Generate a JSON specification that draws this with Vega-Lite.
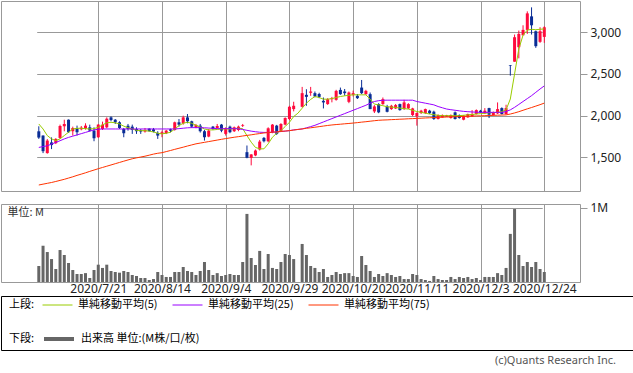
{
  "$schema": "https://vega.github.io/schema/vega-lite/v6.json",
  "padding": 0,
  "background": "white",
  "config": {
    "font": "Noto Sans",
    "view": {"stroke": "#999999", "strokeWidth": 1},
    "axis": {"gridColor": "#999999", "gridWidth": 1, "labelFont": "Noto Sans", "labelFontSize": 12, "labelColor": "#222222", "tickColor": "#999999", "domain": false}
  },
  "datasets": {
    "ohlc": [
      {"d":"2020/7/1","o":1813,"h":1873,"l":1722,"c":1738,"v":0.216,"m5":1901,"m25":1620,"m75":1170},
      {"d":"2020/7/2","o":1762,"h":1765,"l":1552,"c":1575,"v":0.49,"m5":1841,"m25":1630,"m75":1180},
      {"d":"2020/7/3","o":1552,"h":1720,"l":1545,"c":1702,"v":0.405,"m5":1762,"m25":1640,"m75":1190},
      {"d":"2020/7/6","o":1680,"h":1740,"l":1600,"c":1648,"v":0.31,"m5":1722,"m25":1660,"m75":1200},
      {"d":"2020/7/7","o":1671,"h":1730,"l":1660,"c":1722,"v":0.176,"m5":1702,"m25":1680,"m75":1212},
      {"d":"2020/7/8","o":1734,"h":1893,"l":1722,"c":1877,"v":0.432,"m5":1722,"m25":1700,"m75":1225},
      {"d":"2020/7/9","o":1873,"h":1952,"l":1813,"c":1901,"v":0.365,"m5":1762,"m25":1722,"m75":1238},
      {"d":"2020/7/10","o":1952,"h":1955,"l":1794,"c":1802,"v":0.257,"m5":1802,"m25":1740,"m75":1253},
      {"d":"2020/7/13","o":1814,"h":1869,"l":1762,"c":1853,"v":0.162,"m5":1841,"m25":1755,"m75":1268},
      {"d":"2020/7/14","o":1849,"h":1881,"l":1762,"c":1802,"v":0.108,"m5":1849,"m25":1770,"m75":1285},
      {"d":"2020/7/15","o":1837,"h":1877,"l":1825,"c":1857,"v":0.108,"m5":1849,"m25":1785,"m75":1300},
      {"d":"2020/7/16","o":1849,"h":1909,"l":1833,"c":1881,"v":0.12,"m5":1845,"m25":1800,"m75":1316},
      {"d":"2020/7/17","o":1861,"h":1893,"l":1810,"c":1821,"v":0.054,"m5":1841,"m25":1815,"m75":1333},
      {"d":"2020/7/20","o":1821,"h":1861,"l":1694,"c":1730,"v":0.162,"m5":1845,"m25":1830,"m75":1349},
      {"d":"2020/7/21","o":1742,"h":1901,"l":1734,"c":1893,"v":0.234,"m5":1861,"m25":1838,"m75":1365},
      {"d":"2020/7/22","o":1841,"h":1929,"l":1829,"c":1893,"v":0.19,"m5":1890,"m25":1841,"m75":1380},
      {"d":"2020/7/27","o":1861,"h":1980,"l":1849,"c":1964,"v":0.234,"m5":1915,"m25":1841,"m75":1395},
      {"d":"2020/7/28","o":1980,"h":1992,"l":1933,"c":1948,"v":0.149,"m5":1921,"m25":1841,"m75":1410},
      {"d":"2020/7/29","o":1952,"h":1960,"l":1901,"c":1920,"v":0.135,"m5":1915,"m25":1841,"m75":1425},
      {"d":"2020/7/30","o":1921,"h":1933,"l":1841,"c":1853,"v":0.126,"m5":1901,"m25":1841,"m75":1440},
      {"d":"2020/7/31","o":1841,"h":1853,"l":1742,"c":1790,"v":0.149,"m5":1875,"m25":1841,"m75":1455},
      {"d":"2020/8/3","o":1881,"h":1901,"l":1821,"c":1841,"v":0.135,"m5":1855,"m25":1841,"m75":1470},
      {"d":"2020/8/4","o":1869,"h":1893,"l":1782,"c":1829,"v":0.095,"m5":1841,"m25":1841,"m75":1484},
      {"d":"2020/8/5","o":1841,"h":1861,"l":1782,"c":1814,"v":0.081,"m5":1825,"m25":1841,"m75":1495},
      {"d":"2020/8/6","o":1829,"h":1841,"l":1782,"c":1810,"v":0.054,"m5":1821,"m25":1841,"m75":1505},
      {"d":"2020/8/7","o":1810,"h":1853,"l":1798,"c":1829,"v":0.054,"m5":1821,"m25":1841,"m75":1515},
      {"d":"2020/8/11","o":1845,"h":1849,"l":1810,"c":1814,"v":0.027,"m5":1815,"m25":1841,"m75":1527},
      {"d":"2020/8/12","o":1837,"h":1853,"l":1800,"c":1810,"v":0.04,"m5":1805,"m25":1841,"m75":1540},
      {"d":"2020/8/13","o":1794,"h":1814,"l":1722,"c":1762,"v":0.135,"m5":1790,"m25":1841,"m75":1550},
      {"d":"2020/8/14","o":1782,"h":1821,"l":1742,"c":1802,"v":0.095,"m5":1782,"m25":1841,"m75":1557},
      {"d":"2020/8/17","o":1790,"h":1830,"l":1780,"c":1821,"v":0.068,"m5":1790,"m25":1841,"m75":1570},
      {"d":"2020/8/18","o":1837,"h":1845,"l":1800,"c":1820,"v":0.068,"m5":1802,"m25":1841,"m75":1583},
      {"d":"2020/8/19","o":1829,"h":1929,"l":1821,"c":1921,"v":0.135,"m5":1840,"m25":1841,"m75":1597},
      {"d":"2020/8/20","o":1921,"h":1960,"l":1869,"c":1893,"v":0.135,"m5":1881,"m25":1845,"m75":1610},
      {"d":"2020/8/21","o":1909,"h":2000,"l":1893,"c":1980,"v":0.203,"m5":1910,"m25":1850,"m75":1623},
      {"d":"2020/8/24","o":1980,"h":2020,"l":1909,"c":1933,"v":0.149,"m5":1921,"m25":1855,"m75":1637},
      {"d":"2020/8/25","o":1933,"h":1940,"l":1853,"c":1869,"v":0.135,"m5":1909,"m25":1857,"m75":1650},
      {"d":"2020/8/26","o":1861,"h":1901,"l":1850,"c":1889,"v":0.095,"m5":1885,"m25":1857,"m75":1663},
      {"d":"2020/8/27","o":1881,"h":1901,"l":1798,"c":1814,"v":0.149,"m5":1865,"m25":1857,"m75":1672},
      {"d":"2020/8/28","o":1814,"h":1830,"l":1702,"c":1742,"v":0.27,"m5":1841,"m25":1855,"m75":1681},
      {"d":"2020/8/31","o":1750,"h":1841,"l":1742,"c":1821,"v":0.162,"m5":1830,"m25":1852,"m75":1690},
      {"d":"2020/9/1","o":1869,"h":1877,"l":1830,"c":1841,"v":0.095,"m5":1830,"m25":1848,"m75":1699},
      {"d":"2020/9/2","o":1853,"h":1901,"l":1845,"c":1877,"v":0.12,"m5":1835,"m25":1845,"m75":1708},
      {"d":"2020/9/3","o":1893,"h":1901,"l":1802,"c":1821,"v":0.081,"m5":1841,"m25":1845,"m75":1717},
      {"d":"2020/9/4","o":1782,"h":1861,"l":1762,"c":1853,"v":0.095,"m5":1841,"m25":1845,"m75":1726},
      {"d":"2020/9/7","o":1869,"h":1881,"l":1790,"c":1802,"v":0.108,"m5":1841,"m25":1845,"m75":1734},
      {"d":"2020/9/8","o":1814,"h":1870,"l":1805,"c":1861,"v":0.095,"m5":1845,"m25":1845,"m75":1742},
      {"d":"2020/9/9","o":1829,"h":1881,"l":1814,"c":1869,"v":0.095,"m5":1850,"m25":1843,"m75":1749},
      {"d":"2020/9/10","o":1877,"h":1901,"l":1865,"c":1885,"v":0.27,"m5":1845,"m25":1835,"m75":1757},
      {"d":"2020/9/11","o":1563,"h":1643,"l":1490,"c":1496,"v":0.92,"m5":1762,"m25":1825,"m75":1764},
      {"d":"2020/9/14","o":1496,"h":1540,"l":1405,"c":1536,"v":0.324,"m5":1683,"m25":1815,"m75":1771},
      {"d":"2020/9/15","o":1524,"h":1595,"l":1515,"c":1583,"v":0.23,"m5":1620,"m25":1808,"m75":1779},
      {"d":"2020/9/16","o":1595,"h":1710,"l":1583,"c":1690,"v":0.42,"m5":1603,"m25":1802,"m75":1786},
      {"d":"2020/9/17","o":1734,"h":1745,"l":1680,"c":1694,"v":0.176,"m5":1603,"m25":1800,"m75":1793},
      {"d":"2020/9/18","o":1694,"h":1861,"l":1682,"c":1849,"v":0.378,"m5":1663,"m25":1800,"m75":1798},
      {"d":"2020/9/23","o":1802,"h":1900,"l":1790,"c":1893,"v":0.19,"m5":1742,"m25":1802,"m75":1802},
      {"d":"2020/9/24","o":1881,"h":1890,"l":1770,"c":1782,"v":0.176,"m5":1790,"m25":1805,"m75":1807},
      {"d":"2020/9/25","o":1814,"h":1910,"l":1805,"c":1901,"v":0.27,"m5":1821,"m25":1810,"m75":1812},
      {"d":"2020/9/28","o":1893,"h":1980,"l":1885,"c":1972,"v":0.378,"m5":1870,"m25":1815,"m75":1816},
      {"d":"2020/9/29","o":1960,"h":2119,"l":1948,"c":2107,"v":0.365,"m5":1921,"m25":1821,"m75":1821},
      {"d":"2020/9/30","o":2079,"h":2167,"l":2052,"c":2119,"v":0.31,"m5":1990,"m25":1830,"m75":1828},
      {"d":"2020/10/1","o":null,"h":null,"l":null,"c":null,"v":null,"m5":2030,"m25":1836,"m75":1835},
      {"d":"2020/10/2","o":2107,"h":2345,"l":2099,"c":2270,"v":0.514,"m5":2090,"m25":1841,"m75":1842},
      {"d":"2020/10/5","o":2250,"h":2317,"l":2119,"c":2226,"v":0.365,"m5":2150,"m25":1855,"m75":1849},
      {"d":"2020/10/6","o":2274,"h":2345,"l":2238,"c":2290,"v":0.216,"m5":2195,"m25":1869,"m75":1855},
      {"d":"2020/10/7","o":2270,"h":2290,"l":2220,"c":2230,"v":0.19,"m5":2230,"m25":1885,"m75":1862},
      {"d":"2020/10/8","o":2260,"h":2275,"l":2210,"c":2225,"v":0.135,"m5":2218,"m25":1905,"m75":1869},
      {"d":"2020/10/9","o":2178,"h":2218,"l":2087,"c":2159,"v":0.176,"m5":2198,"m25":1925,"m75":1876},
      {"d":"2020/10/12","o":2139,"h":2210,"l":2130,"c":2198,"v":0.068,"m5":2198,"m25":1945,"m75":1883},
      {"d":"2020/10/13","o":2198,"h":2225,"l":2160,"c":2210,"v":0.095,"m5":2205,"m25":1965,"m75":1889},
      {"d":"2020/10/14","o":2190,"h":2310,"l":2180,"c":2297,"v":0.135,"m5":2218,"m25":1985,"m75":1894},
      {"d":"2020/10/15","o":2309,"h":2337,"l":2250,"c":2258,"v":0.108,"m5":2230,"m25":2005,"m75":1898},
      {"d":"2020/10/16","o":2290,"h":2320,"l":2240,"c":2270,"v":0.12,"m5":2238,"m25":2025,"m75":1903},
      {"d":"2020/10/19","o":2166,"h":2290,"l":2150,"c":2278,"v":0.12,"m5":2245,"m25":2045,"m75":1907},
      {"d":"2020/10/20","o":2250,"h":2300,"l":2230,"c":2270,"v":0.081,"m5":2250,"m25":2065,"m75":1912},
      {"d":"2020/10/21","o":2238,"h":2260,"l":2200,"c":2210,"v":0.068,"m5":2250,"m25":2085,"m75":1917},
      {"d":"2020/10/22","o":2337,"h":2428,"l":2258,"c":2270,"v":0.351,"m5":2250,"m25":2105,"m75":1923},
      {"d":"2020/10/23","o":2258,"h":2310,"l":2250,"c":2297,"v":0.23,"m5":2250,"m25":2125,"m75":1928},
      {"d":"2020/10/26","o":2258,"h":2278,"l":2079,"c":2079,"v":0.149,"m5":2198,"m25":2150,"m75":1934},
      {"d":"2020/10/27","o":2051,"h":2127,"l":2032,"c":2111,"v":0.068,"m5":2139,"m25":2170,"m75":1940},
      {"d":"2020/10/28","o":2139,"h":2150,"l":2030,"c":2040,"v":0.108,"m5":2130,"m25":2180,"m75":1945},
      {"d":"2020/10/29","o":2139,"h":2218,"l":2130,"c":2198,"v":0.081,"m5":2120,"m25":2185,"m75":1948},
      {"d":"2020/10/30","o":2111,"h":2130,"l":2040,"c":2047,"v":0.12,"m5":2107,"m25":2186,"m75":1950},
      {"d":"2020/11/2","o":2079,"h":2130,"l":2070,"c":2119,"v":0.095,"m5":2103,"m25":2186,"m75":1953},
      {"d":"2020/11/4","o":2087,"h":2140,"l":2080,"c":2127,"v":0.068,"m5":2099,"m25":2186,"m75":1955},
      {"d":"2020/11/5","o":2139,"h":2145,"l":2060,"c":2067,"v":0.081,"m5":2092,"m25":2186,"m75":1958},
      {"d":"2020/11/6","o":2079,"h":2190,"l":2070,"c":2159,"v":0.04,"m5":2085,"m25":2186,"m75":1960},
      {"d":"2020/11/9","o":2087,"h":2150,"l":2080,"c":2139,"v":0.04,"m5":2079,"m25":2186,"m75":1963},
      {"d":"2020/11/10","o":2008,"h":2095,"l":1995,"c":2087,"v":0.108,"m5":2065,"m25":2186,"m75":1965},
      {"d":"2020/11/11","o":1992,"h":2040,"l":1881,"c":2032,"v":0.095,"m5":2050,"m25":2170,"m75":1968},
      {"d":"2020/11/12","o":2032,"h":2070,"l":2020,"c":2060,"v":0.04,"m5":2040,"m25":2160,"m75":1970},
      {"d":"2020/11/13","o":2032,"h":2085,"l":2020,"c":2079,"v":0.027,"m5":2030,"m25":2150,"m75":1973},
      {"d":"2020/11/16","o":2060,"h":2070,"l":2020,"c":2030,"v":0.014,"m5":2020,"m25":2140,"m75":1975},
      {"d":"2020/11/17","o":2048,"h":2060,"l":1950,"c":1960,"v":0.081,"m5":2012,"m25":2130,"m75":1977},
      {"d":"2020/11/18","o":1960,"h":2015,"l":1955,"c":2008,"v":0.04,"m5":2005,"m25":2110,"m75":1980},
      {"d":"2020/11/19","o":1980,"h":2015,"l":1975,"c":2008,"v":0.027,"m5":2000,"m25":2095,"m75":1982},
      {"d":"2020/11/20","o":1990,"h":2010,"l":1985,"c":2005,"v":0.027,"m5":2000,"m25":2080,"m75":1984},
      {"d":"2020/11/24","o":1972,"h":2015,"l":1965,"c":2008,"v":0.068,"m5":2000,"m25":2072,"m75":1986},
      {"d":"2020/11/25","o":2040,"h":2050,"l":1955,"c":1960,"v":0.04,"m5":2000,"m25":2065,"m75":1988},
      {"d":"2020/11/26","o":2008,"h":2015,"l":1965,"c":1972,"v":0.068,"m5":2000,"m25":2058,"m75":1989},
      {"d":"2020/11/27","o":1952,"h":2005,"l":1945,"c":2000,"v":0.054,"m5":2005,"m25":2052,"m75":1991},
      {"d":"2020/11/30","o":1980,"h":2025,"l":1975,"c":2020,"v":0.068,"m5":2010,"m25":2048,"m75":1993},
      {"d":"2020/12/1","o":1992,"h":2067,"l":1985,"c":2020,"v":0.04,"m5":2015,"m25":2045,"m75":1995},
      {"d":"2020/12/2","o":2020,"h":2075,"l":2015,"c":2067,"v":0.054,"m5":2020,"m25":2042,"m75":1997},
      {"d":"2020/12/3","o":2060,"h":2070,"l":2035,"c":2040,"v":0.027,"m5":2025,"m25":2040,"m75":1998},
      {"d":"2020/12/4","o":2028,"h":2091,"l":2020,"c":2060,"v":0.068,"m5":2030,"m25":2040,"m75":2000},
      {"d":"2020/12/7","o":2091,"h":2095,"l":1972,"c":2012,"v":0.068,"m5":2035,"m25":2040,"m75":2002},
      {"d":"2020/12/8","o":2008,"h":2050,"l":2000,"c":2040,"v":0.068,"m5":2038,"m25":2040,"m75":2004},
      {"d":"2020/12/9","o":2028,"h":2159,"l":2020,"c":2079,"v":0.12,"m5":2040,"m25":2040,"m75":2006},
      {"d":"2020/12/10","o":2091,"h":2100,"l":2015,"c":2020,"v":0.095,"m5":2050,"m25":2040,"m75":2008},
      {"d":"2020/12/11","o":2020,"h":2131,"l":2015,"c":2091,"v":0.19,"m5":2070,"m25":2050,"m75":2010},
      {"d":"2020/12/14","o":2605,"h":2607,"l":2480,"c":2598,"v":0.65,"m5":2200,"m25":2070,"m75":2020},
      {"d":"2020/12/15","o":2647,"h":2972,"l":2647,"c":2940,"v":0.986,"m5":2500,"m25":2100,"m75":2033},
      {"d":"2020/12/16","o":2821,"h":3020,"l":2687,"c":2980,"v":0.365,"m5":2800,"m25":2135,"m75":2048},
      {"d":"2020/12/17","o":2964,"h":3083,"l":2960,"c":3028,"v":0.216,"m5":2965,"m25":2170,"m75":2065},
      {"d":"2020/12/18","o":3028,"h":3250,"l":2980,"c":3226,"v":0.27,"m5":3025,"m25":2205,"m75":2082},
      {"d":"2020/12/21","o":3190,"h":3298,"l":2972,"c":3083,"v":0.203,"m5":3035,"m25":2240,"m75":2098},
      {"d":"2020/12/22","o":3012,"h":3020,"l":2813,"c":2833,"v":0.27,"m5":3030,"m25":2280,"m75":2115},
      {"d":"2020/12/23","o":2885,"h":3060,"l":2873,"c":3012,"v":0.176,"m5":3035,"m25":2320,"m75":2132},
      {"d":"2020/12/24","o":2944,"h":3071,"l":2873,"c":3059,"v":0.135,"m5":3040,"m25":2357,"m75":2151}
    ]
  },
  "spacing": 0,
  "vconcat": [
    {
      "spacing": 9,
      "vconcat": [
        {
          "width": 579,
          "height": 190,
          "data": {"name": "ohlc"},
          "encoding": {
            "x": {
              "field": "d", "type": "ordinal", "sort": null,
              "scale": {"type": "point", "padding": 0, "range": [37.8, 543.3],
                "domain": ["2020/7/1","2020/7/2","2020/7/3","2020/7/6","2020/7/7","2020/7/8","2020/7/9","2020/7/10","2020/7/13","2020/7/14","2020/7/15","2020/7/16","2020/7/17","2020/7/20","2020/7/21","2020/7/22","2020/7/27","2020/7/28","2020/7/29","2020/7/30","2020/7/31","2020/8/3","2020/8/4","2020/8/5","2020/8/6","2020/8/7","2020/8/11","2020/8/12","2020/8/13","2020/8/14","2020/8/17","2020/8/18","2020/8/19","2020/8/20","2020/8/21","2020/8/24","2020/8/25","2020/8/26","2020/8/27","2020/8/28","2020/8/31","2020/9/1","2020/9/2","2020/9/3","2020/9/4","2020/9/7","2020/9/8","2020/9/9","2020/9/10","2020/9/11","2020/9/14","2020/9/15","2020/9/16","2020/9/17","2020/9/18","2020/9/23","2020/9/24","2020/9/25","2020/9/28","2020/9/29","2020/9/30","2020/10/1","2020/10/2","2020/10/5","2020/10/6","2020/10/7","2020/10/8","2020/10/9","2020/10/12","2020/10/13","2020/10/14","2020/10/15","2020/10/16","2020/10/19","2020/10/20","2020/10/21","2020/10/22","2020/10/23","2020/10/26","2020/10/27","2020/10/28","2020/10/29","2020/10/30","2020/11/2","2020/11/4","2020/11/5","2020/11/6","2020/11/9","2020/11/10","2020/11/11","2020/11/12","2020/11/13","2020/11/16","2020/11/17","2020/11/18","2020/11/19","2020/11/20","2020/11/24","2020/11/25","2020/11/26","2020/11/27","2020/11/30","2020/12/1","2020/12/2","2020/12/3","2020/12/4","2020/12/7","2020/12/8","2020/12/9","2020/12/10","2020/12/11","2020/12/14","2020/12/15","2020/12/16","2020/12/17","2020/12/18","2020/12/21","2020/12/22","2020/12/23","2020/12/24"]},
              "axis": {"values": ["2020/7/21","2020/8/14","2020/9/4","2020/9/29","2020/10/20","2020/11/11","2020/12/3","2020/12/24"], "labels": false, "ticks": false, "domain": false, "grid": true, "title": null}
            }
          },
          "layer": [
            {
              "mark": {"type": "rule", "strokeWidth": 1},
              "encoding": {
                "y": {
                  "field": "l", "type": "quantitative",
                  "scale": {"domain": [1098, 3374], "nice": false, "zero": false},
                  "axis": {"orient": "right", "values": [1500, 2000, 2500, 3000], "format": ",.0f", "grid": true, "tickSize": 7, "labelPadding": 3, "title": null}
                },
                "y2": {"field": "h"},
                "color": {"condition": {"test": "datum.c >= datum.o", "value": "#ff0a3c"}, "value": "#0a2d96"}
              }
            },
            {
              "mark": {"type": "bar", "width": 3},
              "encoding": {
                "y": {"field": "o", "type": "quantitative"},
                "y2": {"field": "c"},
                "color": {"condition": {"test": "datum.c >= datum.o", "value": "#ff0a3c"}, "value": "#0a2d96"}
              }
            },
            {
              "transform": [{"fold": ["m5", "m25", "m75"], "as": ["ma", "val"]}],
              "mark": {"type": "line", "strokeWidth": 1},
              "encoding": {
                "y": {"field": "val", "type": "quantitative"},
                "color": {"field": "ma", "type": "nominal", "scale": {"domain": ["m5", "m25", "m75"], "range": ["#99cc00", "#9900ff", "#ff3300"]}, "legend": null},
                "order": {"value": null}
              }
            }
          ]
        },
        {
          "width": 579,
          "height": 78,
          "data": {"name": "ohlc"},
          "mark": {"type": "bar", "width": 3, "color": "#666666"},
          "encoding": {
            "x": {
              "field": "d", "type": "ordinal", "sort": null,
              "scale": {"type": "point", "padding": 0, "range": [37.8, 543.3],
                "domain": ["2020/7/1","2020/7/2","2020/7/3","2020/7/6","2020/7/7","2020/7/8","2020/7/9","2020/7/10","2020/7/13","2020/7/14","2020/7/15","2020/7/16","2020/7/17","2020/7/20","2020/7/21","2020/7/22","2020/7/27","2020/7/28","2020/7/29","2020/7/30","2020/7/31","2020/8/3","2020/8/4","2020/8/5","2020/8/6","2020/8/7","2020/8/11","2020/8/12","2020/8/13","2020/8/14","2020/8/17","2020/8/18","2020/8/19","2020/8/20","2020/8/21","2020/8/24","2020/8/25","2020/8/26","2020/8/27","2020/8/28","2020/8/31","2020/9/1","2020/9/2","2020/9/3","2020/9/4","2020/9/7","2020/9/8","2020/9/9","2020/9/10","2020/9/11","2020/9/14","2020/9/15","2020/9/16","2020/9/17","2020/9/18","2020/9/23","2020/9/24","2020/9/25","2020/9/28","2020/9/29","2020/9/30","2020/10/1","2020/10/2","2020/10/5","2020/10/6","2020/10/7","2020/10/8","2020/10/9","2020/10/12","2020/10/13","2020/10/14","2020/10/15","2020/10/16","2020/10/19","2020/10/20","2020/10/21","2020/10/22","2020/10/23","2020/10/26","2020/10/27","2020/10/28","2020/10/29","2020/10/30","2020/11/2","2020/11/4","2020/11/5","2020/11/6","2020/11/9","2020/11/10","2020/11/11","2020/11/12","2020/11/13","2020/11/16","2020/11/17","2020/11/18","2020/11/19","2020/11/20","2020/11/24","2020/11/25","2020/11/26","2020/11/27","2020/11/30","2020/12/1","2020/12/2","2020/12/3","2020/12/4","2020/12/7","2020/12/8","2020/12/9","2020/12/10","2020/12/11","2020/12/14","2020/12/15","2020/12/16","2020/12/17","2020/12/18","2020/12/21","2020/12/22","2020/12/23","2020/12/24"]},
              "axis": {"values": ["2020/7/21","2020/8/14","2020/9/4","2020/9/29","2020/10/20","2020/11/11","2020/12/3","2020/12/24"], "labelAngle": 0, "labelOverlap": false, "ticks": false, "domain": false, "grid": true, "labelPadding": 1, "title": null}
            },
            "y": {
              "field": "v", "type": "quantitative",
              "scale": {"domain": [0, 1.054], "nice": false},
              "axis": {"orient": "right", "values": [1], "labelExpr": "'1M'", "grid": true, "tickSize": 7, "labelPadding": 3,
                "title": "単位: M", "titleAngle": 0, "titleX": -573, "titleY": 8, "titleAlign": "left", "titleBaseline": "middle", "titleFont": "Noto Sans CJK JP", "titleFontSize": 11, "titleFontWeight": "normal", "titleColor": "#333333"}
            }
          }
        }
      ]
    },
    {
      "width": 632,
      "height": 54,
      "view": {"stroke": "#000000", "strokeWidth": 1},
      "title": {"text": "(c)Quants Research Inc.", "orient": "bottom", "anchor": "end", "offset": 5, "dx": -17, "font": "Noto Sans", "fontSize": 11, "fontWeight": "normal", "color": "#555555"},
      "layer": [
        {
          "data": {"values": []},
          "mark": {"type": "line"},
          "encoding": {
            "color": {
              "field": "s", "type": "nominal",
              "scale": {"domain": ["単純移動平均(5)", "単純移動平均(25)", "単純移動平均(75)"], "range": ["#99cc00", "#9900ff", "#ff3300"]},
              "legend": {"orient": "none", "legendX": 8, "legendY": 2, "direction": "horizontal", "clipHeight": 14, "title": "上段:", "titleOrient": "left", "titleAnchor": "middle", "titleBaseline": "middle", "titleFont": "Noto Sans CJK JP", "titleFontSize": 11, "titleFontWeight": "normal", "titleColor": "#000000", "titlePadding": 7, "labelFont": "Noto Sans CJK JP", "labelFontSize": 11, "labelColor": "#000000", "symbolType": "stroke", "symbolSize": 900, "symbolStrokeWidth": 1, "symbolOpacity": 1, "labelOffset": 5, "columnPadding": 14}
            }
          }
        },
        {
          "data": {"values": []},
          "mark": {"type": "line"},
          "encoding": {
            "color": {
              "field": "s", "type": "nominal",
              "scale": {"domain": ["出来高 単位:(M株/口/枚)"], "range": ["#666666"]},
              "legend": {"orient": "none", "legendX": 8, "legendY": 36, "direction": "horizontal", "clipHeight": 14, "title": "下段:", "titleOrient": "left", "titleAnchor": "middle", "titleBaseline": "middle", "titleFont": "Noto Sans CJK JP", "titleFontSize": 11, "titleFontWeight": "normal", "titleColor": "#000000", "titlePadding": 7, "labelFont": "Noto Sans CJK JP", "labelFontSize": 11, "labelColor": "#000000", "symbolType": "stroke", "symbolSize": 900, "symbolStrokeWidth": 4, "symbolOpacity": 1, "labelOffset": 5}
            }
          }
        }
      ],
      "resolve": {"scale": {"color": "independent"}}
    }
  ]
}
